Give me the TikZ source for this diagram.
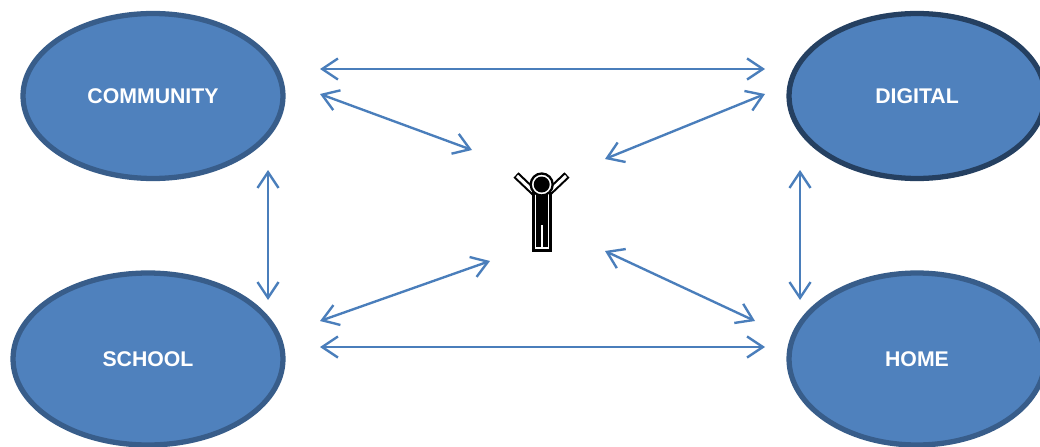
\documentclass[tikz,border=0pt]{standalone}
\usepackage{fontspec}
\setmainfont{Liberation Sans}
\usepackage{xcolor}
\usetikzlibrary{arrows.meta, positioning, shapes.geometric}
\definecolor{blobfill}{HTML}{4F81BD}
\definecolor{blobline}{HTML}{385D8A}
\definecolor{darkline}{HTML}{254061}
\definecolor{linkblue}{HTML}{4A7EBB}
\tikzset{
  place/.style={draw=blobline, fill=blobfill, line width=3pt, ellipse, inner sep=0pt,
    text=white, font=\fontsize{12.1}{14}\selectfont\bfseries},
  link/.style={draw=linkblue, line width=1.35pt, {Straight Barb[length=9pt,width=12pt,line width=1.35pt]}-{Straight Barb[length=9pt,width=12pt,line width=1.35pt]}}
}
\begin{document}
\begin{tikzpicture}[x=0.02cm,y=-0.02cm]
      \useasboundingbox (0,0) rectangle (1040,446);
      \clip (0,0) rectangle (1040,446);
      % the four places
      \node[place, minimum width=5.2cm, minimum height=3.3cm] (community) at (153,96) {\raisebox{-0.6pt}{COMMUNITY}};
      \node[place, draw=darkline, minimum width=5.12cm, minimum height=3.3cm] (digital) at (917,96) {\raisebox{-0.6pt}{DIGITAL}};
      \node[place, minimum width=5.4cm, minimum height=3.44cm] (school) at (148,359) {\raisebox{-0.6pt}{SCHOOL}};
      \node[place, minimum width=5.12cm, minimum height=3.44cm] (home) at (917,359) {\raisebox{-0.6pt}{HOME}};
      % free ends of the arrows
      \coordinate (ctop) at (320,69);
      \coordinate (dtop) at (765,69);
      \coordinate (cmid) at (320,94);
      \coordinate (pnw) at (472,150);
      \coordinate (dmid) at (765,94);
      \coordinate (pne) at (605,159);
      \coordinate (cdown) at (268,170);
      \coordinate (sup) at (268,300);
      \coordinate (ddown) at (800,170);
      \coordinate (hup) at (800,300);
      \coordinate (smid) at (320,321);
      \coordinate (psw) at (490,261);
      \coordinate (pse) at (605,251);
      \coordinate (hmid) at (755,321);
      \coordinate (sbot) at (320,347);
      \coordinate (hbot) at (765,347);
      % arrows
      \draw[link] (ctop) -- (dtop);
      \draw[link] (cmid) -- (pnw);
      \draw[link] (dmid) -- (pne);
      \draw[link] (cdown) -- (sup);
      \draw[link] (ddown) -- (hup);
      \draw[link] (smid) -- (psw);
      \draw[link] (pse) -- (hmid);
      \draw[link] (sbot) -- (hbot);
      % the person
      \draw[black, line width=4.2pt] (516,175) -- (536,194);
      \draw[black, line width=4.2pt] (567,175) -- (547,194);
      \draw[white, line width=1.8pt] (517,176) -- (536,194);
      \draw[white, line width=1.8pt] (566,176) -- (547,194);
      \draw[black, fill=white, line width=1.3pt] (533.5,193) rectangle (550.5,250.5);
      \fill[black] (535.7,195) rectangle (547.7,247);
      \fill[white] (540.9,225) rectangle (542.7,247);
      \draw[black, fill=white, line width=1.3pt] (541.7,184.5) circle (11);
      \fill[black] (541.7,184.5) circle (8);
\end{tikzpicture}
\end{document}
